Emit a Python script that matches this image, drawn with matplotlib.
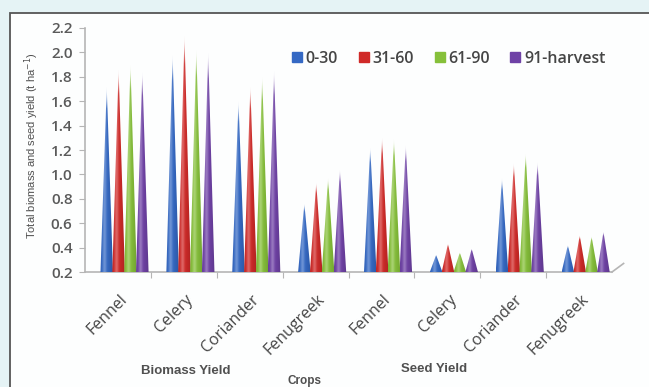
"""Spike (cone) chart of biomass and seed yield of seed spices by growth stage."""

import numpy as np
import matplotlib
matplotlib.use("Agg")
import matplotlib.pyplot as plt
from matplotlib.colors import to_rgb
from matplotlib.lines import Line2D
from matplotlib.patches import Polygon, Rectangle

crops = ["Fennel", "Celery", "Coriander", "Fenugreek",
         "Fennel", "Celery", "Coriander", "Fenugreek"]
groups = ["Biomass Yield", "Seed Yield"]
stages = ["0-30", "31-60", "61-90", "91-harvest"]

# t/ha, first four crops = biomass, last four = seed
yield_0_30 = [1.72, 1.98, 1.60, 0.76, 1.22, 0.34, 0.97, 0.42]
yield_31_60 = [1.86, 2.14, 1.72, 0.93, 1.30, 0.43, 1.09, 0.50]
yield_61_90 = [1.90, 2.02, 1.80, 0.97, 1.29, 0.36, 1.17, 0.49]
yield_91_harvest = [1.84, 2.00, 1.85, 1.04, 1.24, 0.39, 1.10, 0.53]

yticks = [0.2, 0.4, 0.6, 0.8, 1.0, 1.2, 1.4, 1.6, 1.8, 2.0, 2.2]

COLORS = ["#3569c4", "#d02a28", "#86c03a", "#6f42a6"]
TXT = "#454545"
FONT = "Open Sans"
NARROW = ["Liberation Sans Narrow", "Liberation Sans", "DejaVu Sans"]
BASE = 0.2


def cone_image(color, nx=40, ny=120):
    """RGBA gradient: highlight left of centre, darker edges, faded tip."""
    c = np.array(to_rgb(color))
    u = np.linspace(0, 1, nx)
    v = np.linspace(0, 1, ny)
    light = 0.28 * np.exp(-((u - 0.35) / 0.15) ** 2)
    dark = 0.3 * np.abs(u - 0.35) ** 1.5
    rgb = c[None, :] * (1 - dark[:, None])
    rgb = rgb + (1 - rgb) * light[:, None]
    img = np.ones((ny, nx, 4))
    img[:, :, :3] = rgb[None, :, :]
    img[:, :, 3] = np.clip((1 - v) / 0.12, 0.15, 1)[:, None]
    return img


def cone(ax, x0, w, top, color):
    poly = Polygon([[x0, BASE], [x0 + w, BASE], [x0 + w / 2, top]],
                   closed=True, fc="none", ec="none")
    ax.add_patch(poly)
    im = ax.imshow(cone_image(color), extent=(x0, x0 + w, BASE, top),
                   origin="lower", aspect="auto", interpolation="bilinear",
                   zorder=3)
    im.set_clip_path(poly)


def main():
    fig = plt.figure(figsize=(6.49, 3.87), dpi=100)
    fig.patch.set_facecolor("#e5f3f5")
    panel = Rectangle((10 / 649, -0.1), 1.0, 1 - 13 / 387 + 0.1,
                      transform=fig.transFigure, fc="#fdfefe",
                      ec="#555555", lw=1.3, zorder=-10)
    fig.patches.append(panel)

    ax = fig.add_axes([85 / 649, 1 - 272 / 387, (612 - 85) / 649, (272 - 28) / 387])
    ax.set_facecolor("none")
    ax.set_zorder(5)

    series = [yield_0_30, yield_31_60, yield_61_90, yield_91_harvest]
    w = 0.19
    for j, (vals, col) in enumerate(zip(series, COLORS)):
        for i, val in enumerate(vals):
            cone(ax, i + 0.235 + j * 0.18, w, val, col)

    ax.set_xlim(0, len(crops))
    ax.set_ylim(BASE, 2.2)

    for s in ["top", "right"]:
        ax.spines[s].set_visible(False)
    for s in ["left", "bottom"]:
        ax.spines[s].set_color("#b5b5b5")
        ax.spines[s].set_linewidth(1.2)
    # right-hand edge of the 3D floor
    ax.add_line(Line2D([1.0, 1.022], [0.0, 0.035], transform=ax.transAxes,
                       color="#b5b5b5", lw=1.2, clip_on=False))

    ax.set_yticks(yticks)
    ax.set_yticklabels([f"{t:.1f}" for t in yticks], fontsize=11,
                       fontweight="semibold", color="#5a5a5a", family=FONT)
    ax.tick_params(axis="y", length=4, color="#b5b5b5", pad=5)

    ax.set_xticks(np.arange(1, len(crops)))
    ax.set_xticklabels([])
    ax.tick_params(axis="x", length=4, color="#b5b5b5")
    for i, name in enumerate(crops):
        ax.text(i + 0.52, -0.08, name, transform=ax.get_xaxis_transform(),
                rotation=45, rotation_mode="anchor", ha="right", va="top",
                fontsize=11.5, color=TXT, family=FONT)

    fig.text(186 / 649, 1 - 371 / 387, groups[0], ha="center", va="center",
             fontsize=9.5, color="#505050", family=NARROW, fontweight="bold")
    fig.text(434 / 649, 1 - 369 / 387, groups[1], ha="center", va="center",
             fontsize=9.5, color="#505050", family=NARROW, fontweight="bold")
    fig.text(305 / 649, 1 - 381 / 387, "Crops", ha="center", va="center",
             fontsize=8.5, color="#505050", family=NARROW, fontweight="bold")
    fig.text(32 / 649, 1 - 146 / 387, "Total biomass and seed yield (t ha$^{-1}$)",
             rotation=90, ha="center", va="center", fontsize=8,
             color="#505050", family=NARROW)

    handles = [Line2D([], [], marker="s", ls="none", ms=6.5, color=c) for c in COLORS]
    leg = fig.legend(handles, stages, loc="center right", ncol=4, frameon=False,
                     bbox_to_anchor=(620 / 649, 1 - 59 / 387), handlelength=0.6,
                     handletextpad=0.25, columnspacing=1.3,
                     prop={"family": FONT, "size": 11.5, "weight": "semibold"})
    for t in leg.get_texts():
        t.set_color(TXT)

    fig.savefig("out.png", dpi=100, facecolor=fig.get_facecolor())


if __name__ == "__main__":
    main()
